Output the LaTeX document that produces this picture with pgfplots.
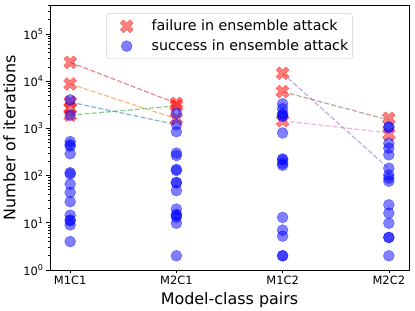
\documentclass[border=0pt]{standalone}
\usepackage{pgfplots}
\pgfplotsset{compat=1.18}
\usepackage{fontspec}
\setmainfont{DejaVu Sans}
\definecolor{C0}{HTML}{1F77B4}
\definecolor{C1}{HTML}{FF7F0E}
\definecolor{C2}{HTML}{2CA02C}
\definecolor{C3}{HTML}{D62728}
\definecolor{C4}{HTML}{9467BD}
\definecolor{C5}{HTML}{8C564B}
\definecolor{C6}{HTML}{E377C2}
\pgfdeclareplotmark{Xf}{%
  \pgfpathmoveto{\pgfqpoint{-0.5\pgfplotmarksize}{-1\pgfplotmarksize}}%
  \pgfpathlineto{\pgfqpoint{0pt}{-0.5\pgfplotmarksize}}%
  \pgfpathlineto{\pgfqpoint{0.5\pgfplotmarksize}{-1\pgfplotmarksize}}%
  \pgfpathlineto{\pgfqpoint{1\pgfplotmarksize}{-0.5\pgfplotmarksize}}%
  \pgfpathlineto{\pgfqpoint{0.5\pgfplotmarksize}{0pt}}%
  \pgfpathlineto{\pgfqpoint{1\pgfplotmarksize}{0.5\pgfplotmarksize}}%
  \pgfpathlineto{\pgfqpoint{0.5\pgfplotmarksize}{1\pgfplotmarksize}}%
  \pgfpathlineto{\pgfqpoint{0pt}{0.5\pgfplotmarksize}}%
  \pgfpathlineto{\pgfqpoint{-0.5\pgfplotmarksize}{1\pgfplotmarksize}}%
  \pgfpathlineto{\pgfqpoint{-1\pgfplotmarksize}{0.5\pgfplotmarksize}}%
  \pgfpathlineto{\pgfqpoint{-0.5\pgfplotmarksize}{0pt}}%
  \pgfpathlineto{\pgfqpoint{-1\pgfplotmarksize}{-0.5\pgfplotmarksize}}%
  \pgfpathclose
  \pgfusepathqfillstroke}
\newcommand{\tp}[1]{10\raisebox{0.42em}{\fontsize{8}{9}\selectfont #1}}
\begin{document}
\begin{tikzpicture}
\useasboundingbox (-50bp,-41bp) rectangle (365bp,270bp);
\begin{axis}[
  scale only axis, width=359bp, height=265bp,
  ymode=log, ymin=1, ymax=4.1e5,
  xmin=-0.19, xmax=3.19,
  xtick={0,1,2,3}, xticklabels={M1C1,M2C1,M1C2,M2C2},
  ytick={1,10,100,1000,10000,100000},
  yticklabels={\tp{0},\tp{1},\tp{2},\tp{3},\tp{4},\tp{5}},
  minor ytick={2,3,4,5,6,7,8,9,20,30,40,50,60,70,80,90,200,300,400,500,600,700,800,900,2000,3000,4000,5000,6000,7000,8000,9000,20000,30000,40000,50000,60000,70000,80000,90000,200000,300000,400000},
  tick align=outside, tick pos=left,
  major tick length=3.5bp, minor tick length=2bp,
  every tick/.style={black, line width=0.6pt},
  axis line style={line width=0.8pt},
  ticklabel style={font=\fontsize{11.5}{13}\selectfont},
  xticklabel style={yshift=1bp},
  label style={font=\fontsize{16}{19}\selectfont},
  xlabel={Model-class pairs},
  ylabel={Number of iterations},
  xlabel style={yshift=-1bp},
  ylabel style={yshift=1bp},
  every axis plot post/.append style={legend image code/.code={\path[draw=none,fill=none] (0bp,-6bp) rectangle (36bp,6bp); \draw[mark repeat=2,mark phase=2,##1] plot coordinates {(0bp,0bp)(18bp,0bp)(36bp,0bp)};}},
  legend style={at={(0.5,0.968)}, anchor=north, draw=black!20, rounded corners=2pt,
    font=\fontsize{14.3}{17}\selectfont, inner xsep=2bp, inner ysep=4.5bp,
    row sep=3.5bp, fill=white, fill opacity=0.8, text opacity=1,
    /tikz/every odd column/.append style={column sep=5bp}},
  legend cell align=left,
]
\addplot[only marks, mark=Xf, mark size=6.5pt,
  mark options={draw=red, fill=red, opacity=0.5, line width=0.4pt}] coordinates {
  (0,25000) (0,8700) (0,3600) (0,2700) (0,1900)
  (1,3400) (1,3000) (1,1600)
  (2,14700) (2,6000) (2,1450)
  (3,1630) (3,750)
};
\addlegendentry{failure in ensemble attack}
\addplot[only marks, mark=*, mark size=5.5pt,
  mark options={draw=blue, fill=blue, opacity=0.5, line width=0.4pt}] coordinates {
  (0,4000) (0,1900) (0,525) (0,450) (0,420) (0,290) (0,115) (0,108) (0,66) (0,44) (0,28) (0,14.5) (0,11.5) (0,11) (0,9) (0,4)
  (1,2100) (1,1200) (1,850) (1,300) (1,265) (1,135) (1,128) (1,72) (1,70) (1,48) (1,19.5) (1,15) (1,14.5) (1,13) (1,9.8) (1,2)
  (2,3300) (2,2600) (2,2050) (2,1900) (2,1800) (2,800) (2,225) (2,215) (2,180) (2,165) (2,13) (2,7) (2,5.2) (2,2) (2,2)
  (3,1070) (3,1040) (3,480) (3,380) (3,275) (3,143) (3,103) (3,88) (3,76) (3,24) (3,16) (3,9.8) (3,4.9) (3,4.9) (3,2)
};
\addlegendentry{success in ensemble attack}
\addplot[C0, opacity=0.55, line width=1.2pt, dash pattern=on 5bp off 2.2bp, forget plot] coordinates {(0,3600) (1,1200)};
\addplot[C1, opacity=0.55, line width=1.2pt, dash pattern=on 5bp off 2.2bp, forget plot] coordinates {(0,8700) (1,1600)};
\addplot[C2, opacity=0.55, line width=1.2pt, dash pattern=on 5bp off 2.2bp, forget plot] coordinates {(0,1900) (1,3000)};
\addplot[C3, opacity=0.55, line width=1.2pt, dash pattern=on 5bp off 2.2bp, forget plot] coordinates {(0,25000) (1,3400)};
\addplot[C4, opacity=0.55, line width=1.2pt, dash pattern=on 5bp off 2.2bp, forget plot] coordinates {(2,14700) (3,140)};
\addplot[C5, opacity=0.55, line width=1.2pt, dash pattern=on 5bp off 2.2bp, forget plot] coordinates {(2,6000) (3,1500)};
\addplot[C6, opacity=0.55, line width=1.2pt, dash pattern=on 5bp off 2.2bp, forget plot] coordinates {(2,1450) (3,800)};
\end{axis}
\end{tikzpicture}
\end{document}
